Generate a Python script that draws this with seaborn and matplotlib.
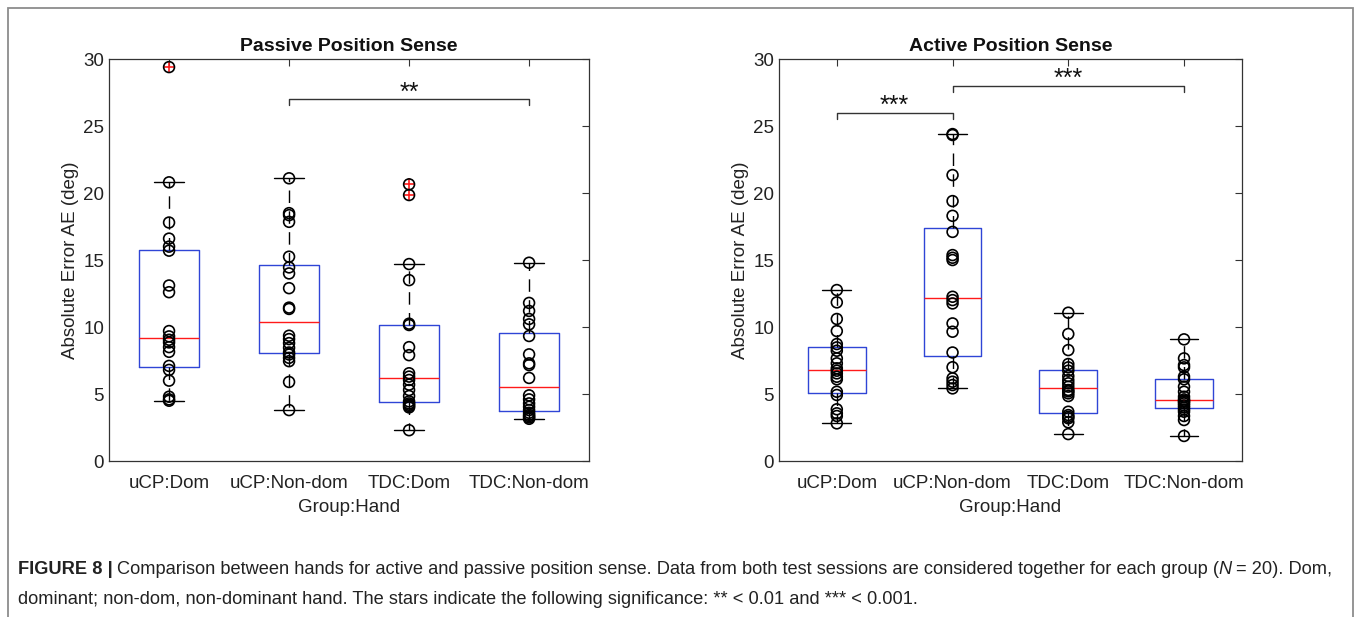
import matplotlib
matplotlib.use("Agg")
import matplotlib.pyplot as plt
import pandas as pd
import seaborn as sns
from matplotlib.patches import Rectangle

GROUPS = ["uCP:Dom", "uCP:Non-dom", "TDC:Dom", "TDC:Non-dom"]

# absolute error (deg), one list per group
passive_ucp_dom = [29.4, 20.8, 17.8, 16.6, 16.0, 15.7, 13.1, 12.6, 9.7, 9.3,
                   9.05, 8.85, 8.5, 8.15, 7.1, 6.8, 6.0, 4.8, 4.6, 4.5]
passive_ucp_nondom = [21.1, 18.5, 18.35, 17.85, 15.25, 14.45, 14.0, 12.9, 11.45, 11.35,
                      9.35, 9.1, 8.8, 8.45, 8.1, 7.95, 7.7, 7.45, 5.9, 3.8]
passive_tdc_dom = [20.65, 19.85, 14.7, 13.5, 10.25, 10.15, 8.5, 7.9, 6.55, 6.3,
                   6.05, 5.7, 5.3, 4.85, 4.45, 4.3, 4.2, 4.1, 4.0, 2.3]
passive_tdc_nondom = [14.8, 11.8, 11.2, 10.6, 10.2, 9.33, 7.96, 7.29, 7.16, 6.2,
                      4.9, 4.6, 4.3, 4.05, 3.8, 3.6, 3.45, 3.35, 3.25, 3.15]

active_ucp_dom = [12.76, 11.84, 10.6, 9.7, 8.73, 8.48, 8.23, 7.66, 7.29, 6.92,
                  6.74, 6.54, 6.29, 6.1, 5.17, 4.93, 3.86, 3.56, 3.36, 2.81]
active_ucp_nondom = [24.4, 24.33, 21.34, 19.4, 18.3, 17.1, 15.37, 15.17, 15.0, 12.26,
                     12.01, 11.76, 10.27, 9.65, 8.1, 7.0, 6.17, 5.92, 5.67, 5.42]
active_tdc_dom = [11.07, 9.48, 8.28, 7.24, 6.99, 6.74, 6.34, 6.04, 5.8, 5.55,
                  5.3, 5.2, 5.05, 4.85, 3.68, 3.43, 3.3, 3.19, 2.89, 2.01]
active_tdc_nondom = [9.08, 7.66, 7.16, 6.99, 6.3, 6.1, 5.55, 5.17, 4.8, 4.6,
                     4.5, 4.42, 4.3, 4.15, 4.0, 3.85, 3.68, 3.36, 3.06, 1.87]

# significance brackets: (from group, to group, height, stars)
passive_sig = [(1, 3, 27.0, "**")]
active_sig = [(0, 1, 26.0, "***"), (1, 3, 28.0, "***")]


def long_table(columns):
    rows = []
    for group, values in zip(GROUPS, columns):
        rows += [{"group": group, "ae": v} for v in values]
    return pd.DataFrame(rows)


def panel(fig, rect, title, columns, sig):
    ax = fig.add_axes(rect)
    df = long_table(columns)
    sns.boxplot(data=df, x="group", y="ae", order=GROUPS, width=0.5, fill=False,
                linecolor="black", ax=ax,
                boxprops=dict(color="#2f45d6", linewidth=1.0),
                medianprops=dict(color="#ff1a1a", linewidth=1.0),
                whiskerprops=dict(color="black", linewidth=1.0, linestyle=(0, (9, 6))),
                capprops=dict(color="black", linewidth=1.0),
                flierprops=dict(marker="+", markeredgecolor="#ff1a1a",
                                markerfacecolor="none", markersize=8, markeredgewidth=1.2))
    sns.stripplot(data=df, x="group", y="ae", order=GROUPS, jitter=False, size=7.8,
                  marker="o", facecolors="none", edgecolor="black", linewidth=1.2,
                  ax=ax, zorder=4)
    for a, b, h, stars in sig:
        ax.plot([a, a, b, b], [h - 0.45, h, h, h - 0.45], color="#333333", lw=1.0)
        ax.text((a + b) / 2, h - 0.4, stars, ha="center", va="bottom", fontsize=18,
                color="#111111")
    ax.set_xlim(-0.5, 3.5)
    ax.set_ylim(0, 30)
    ax.set_yticks(range(0, 31, 5))
    ax.set_title(title, fontsize=14, fontweight="bold", pad=6, color="#111111")
    ax.set_xlabel("Group:Hand", fontsize=13.5, labelpad=5, color="#222222")
    ax.set_ylabel("Absolute Error AE (deg)", fontsize=13.5, labelpad=3, color="#222222")
    ax.tick_params(direction="in", top=True, right=True, length=5, width=0.8,
                   labelsize=13.5, color="#333333", labelcolor="#222222")
    ax.tick_params(axis="x", pad=10)
    for s in ax.spines.values():
        s.set_color("#333333")
        s.set_linewidth(0.9)
    return ax


def caption_line(fig, x, y, pieces, size):
    renderer = fig.canvas.get_renderer()
    W = fig.get_figwidth() * fig.dpi
    for text, style, gap in pieces:
        weight = "bold" if style == "b" else "normal"
        fstyle = "italic" if style == "i" else "normal"
        t = fig.text(x, y, text, fontsize=size, fontweight=weight, fontstyle=fstyle,
                     ha="left", va="center", color="#222222")
        x += t.get_window_extent(renderer).width / W + gap / W


sns.set_style("white")
plt.rcParams["font.family"] = ["Liberation Sans", "DejaVu Sans"]

fig = plt.figure(figsize=(13.58, 6.17), dpi=100)
panel(fig, [0.0803, 0.2528, 0.3535, 0.6515], "Passive Position Sense",
      [passive_ucp_dom, passive_ucp_nondom, passive_tdc_dom, passive_tdc_nondom], passive_sig)
panel(fig, [0.5736, 0.2528, 0.3409, 0.6515], "Active Position Sense",
      [active_ucp_dom, active_ucp_nondom, active_tdc_dom, active_tdc_nondom], active_sig)

fig.patches.append(Rectangle((8 / 1358, -0.1), 1345 / 1358, 1.1 - 8 / 617, fill=False,
                             edgecolor="#8c8c8c", lw=1.3, transform=fig.transFigure))

cap = 13.15
caption_line(fig, 18 / 1358, 1 - 570 / 617, [
    ("FIGURE 8 |", "b", 4),
    ("Comparison between hands for active and passive position sense. Data from both "
     "test sessions are considered together for each group (", "r", 0),
    ("N", "i", 4),
    ("= 20). Dom,", "r", 0),
], cap)
caption_line(fig, 18 / 1358, 1 - 600 / 617, [
    ("dominant; non-dom, non-dominant hand. The stars indicate the following "
     "significance: ** < 0.01 and *** < 0.001.", "r", 0),
], cap)

fig.savefig("out.png", dpi=100)
